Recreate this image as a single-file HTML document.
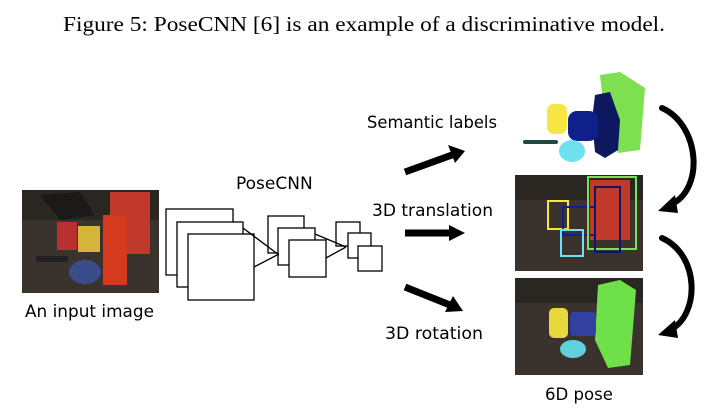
<!DOCTYPE html>
<html><head><style>
body{margin:0;background:#fff;width:715px;height:413px;overflow:hidden}
svg{display:block}
.s{font-family:"DejaVu Sans","Liberation Sans",sans-serif;font-size:17px;fill:#000}
</style></head><body>
<svg width="715" height="413" viewBox="0 0 715 413" xmlns="http://www.w3.org/2000/svg">
<text x="63" y="31" textLength="602" lengthAdjust="spacingAndGlyphs" font-family="Liberation Serif,serif" font-size="21">Figure 5:  PoseCNN [6] is an example of a discriminative model.</text>
<g>
<rect x="22" y="190" width="137" height="103" fill="#3a332d"/>
<rect x="22" y="190" width="137" height="30" fill="#2a2622"/>
<polygon points="40,195 80,192 95,215 60,220" fill="#1c1a18"/>
<rect x="110" y="192" width="40" height="62" fill="#c0392b"/>
<rect x="103" y="215" width="24" height="70" fill="#d63a1e"/>
<rect x="57" y="222" width="20" height="28" fill="#b83030"/>
<rect x="78" y="226" width="22" height="26" fill="#d4b43a"/>
<ellipse cx="85" cy="272" rx="16" ry="12" fill="#3a4d8a"/>
<rect x="36" y="256" width="32" height="6" fill="#222"/>
</g>
<text class="s" x="25" y="317" textLength="129" lengthAdjust="spacingAndGlyphs">An input image</text>
<text class="s" x="236" y="189">PoseCNN</text>
<g fill="#fff" stroke="#000" stroke-width="1.3">
<rect x="166" y="209" width="67" height="66"/>
<rect x="177" y="222" width="66" height="65"/>
<rect x="188" y="234" width="66" height="66"/>
<rect x="268" y="216" width="36" height="37"/>
<rect x="278" y="228" width="37" height="37"/>
<rect x="289" y="240" width="37" height="37"/>
<rect x="336" y="222" width="24" height="24"/>
<rect x="348" y="233" width="23" height="25"/>
<rect x="358" y="246" width="24" height="25"/>
<path d="M243 228 L279 255 M254 267 L279 254 M315 234 L346 247 M326 258 L346 247" fill="none"/>
</g>
<text class="s" x="367" y="128" textLength="130" lengthAdjust="spacingAndGlyphs">Semantic labels</text>
<text class="s" x="372" y="216" textLength="121" lengthAdjust="spacingAndGlyphs">3D translation</text>
<text class="s" x="385" y="339" textLength="98" lengthAdjust="spacingAndGlyphs">3D rotation</text>
<g fill="#000">
<line x1="405" y1="172" x2="452" y2="155" stroke="#000" stroke-width="7"/>
<polygon points="448,145 465,151 455,163"/>
<line x1="405" y1="233" x2="450" y2="233" stroke="#000" stroke-width="7"/>
<polygon points="449,225 465,233 449,241"/>
<line x1="405" y1="287" x2="450" y2="305" stroke="#000" stroke-width="7"/>
<polygon points="453,296 463,311 445,312"/>
</g>
<path d="M600 75 L620 72 L645 88 L640 150 L618 153 L605 120 Z" fill="#7ee050"/>
<path d="M595 95 L610 92 L620 120 L618 150 L605 158 L595 152 L592 120 Z" fill="#0d1860"/>
<rect x="547" y="104" width="20" height="30" rx="7" fill="#f5e642"/>
<rect x="568" y="111" width="30" height="30" rx="9" fill="#10208a"/>
<ellipse cx="572" cy="151" rx="13" ry="11" fill="#6ee0ef"/>
<rect x="523" y="140" width="35" height="4" rx="2" fill="#1f4a44"/>
<rect x="515" y="175" width="128" height="96" fill="#3a332d"/>
<rect x="515" y="175" width="128" height="25" fill="#2a2622"/>
<rect x="590" y="180" width="40" height="60" fill="#c0392b"/>
<rect x="548" y="201" width="20" height="28" fill="none" stroke="#f5e642" stroke-width="2"/>
<rect x="563" y="207" width="32" height="28" fill="none" stroke="#10208a" stroke-width="2"/>
<rect x="588" y="177" width="48" height="72" fill="none" stroke="#7ee050" stroke-width="2"/>
<rect x="595" y="187" width="25" height="65" fill="none" stroke="#0d1860" stroke-width="2"/>
<rect x="561" y="230" width="22" height="26" fill="none" stroke="#6ee0ef" stroke-width="2"/>
<rect x="515" y="278" width="128" height="97" fill="#3a332d"/>
<rect x="515" y="278" width="128" height="25" fill="#2a2622"/>
<path d="M598 285 L620 280 L636 290 L630 365 L608 368 L595 340 Z" fill="#6ee04a"/>
<rect x="549" y="308" width="19" height="30" rx="5" fill="#e8d83a"/>
<rect x="570" y="312" width="26" height="24" rx="4" fill="#3440a0"/>
<ellipse cx="573" cy="349" rx="13" ry="9" fill="#5fd0dc"/>
<text class="s" x="545" y="400" textLength="68" lengthAdjust="spacingAndGlyphs">6D pose</text>
<g fill="none" stroke="#000" stroke-linecap="round">
<path d="M662 108 C700 125 705 190 670 205" stroke-width="6"/>
<path d="M662 238 C700 255 700 315 670 330" stroke-width="6"/>
</g>
<polygon points="658,211 675,195 678,213" fill="#000"/>
<polygon points="658,335 675,320 678,338" fill="#000"/>
</svg>
</body></html>
